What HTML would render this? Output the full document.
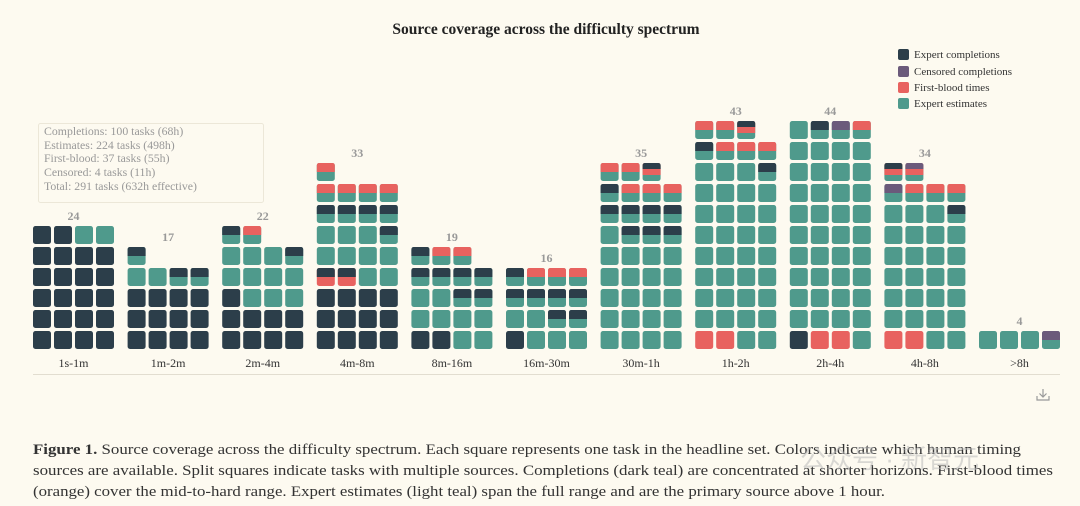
<!DOCTYPE html>
<html><head><meta charset="utf-8"><style>
html,body{margin:0;padding:0;background:#fdfaf0;}
svg{display:block;font-family:"Liberation Serif",serif;}
</style></head><body>
<svg id="s" width="1080" height="506" xmlns="http://www.w3.org/2000/svg">
<rect width="1080" height="506" fill="#fdfaf0"/>
<text x="546" y="34" text-anchor="middle" font-size="15.5" font-weight="bold" fill="#222">Source coverage across the difficulty spectrum</text>
<g font-size="11" fill="#333">
<rect x="898" y="49" width="11" height="11" rx="2" fill="#2c3e4a"/><text x="914" y="58">Expert completions</text>
<rect x="898" y="66" width="11" height="11" rx="2" fill="#6b5a7b"/><text x="914" y="75">Censored completions</text>
<rect x="898" y="82" width="11" height="11" rx="2" fill="#e8625f"/><text x="914" y="91">First-blood times</text>
<rect x="898" y="98" width="11" height="11" rx="2" fill="#4f9a8c"/><text x="914" y="107">Expert estimates</text>
</g>
<rect x="38.5" y="123.5" width="225" height="79" rx="2" fill="#fdfaf0" stroke="#ece7d8"/>
<g font-size="11.8" fill="#999">
<text x="44" y="135">Completions: 100 tasks (68h)</text>
<text x="44" y="149">Estimates: 224 tasks (498h)</text>
<text x="44" y="162">First-blood: 37 tasks (55h)</text>
<text x="44" y="176">Censored: 4 tasks (11h)</text>
<text x="44" y="190">Total: 291 tasks (632h effective)</text>
</g>
<line x1="33" y1="374.5" x2="1060" y2="374.5" stroke="#e2ddd0"/>
<g id="g"></g>
<g stroke="#999" stroke-width="1.2" fill="none"><path d="M1043 389v8M1039.5 393.5l3.5 3.5 3.5-3.5M1037 396v4h12v-4"/></g>
<g font-size="14.5" fill="#333">
<text x="33" y="454" textLength="988" lengthAdjust="spacingAndGlyphs"><tspan font-weight="bold">Figure 1.</tspan> Source coverage across the difficulty spectrum. Each square represents one task in the headline set. Colors indicate which human timing</text>
<text x="33" y="475" textLength="1020" lengthAdjust="spacingAndGlyphs">sources are available. Split squares indicate tasks with multiple sources. Completions (dark teal) are concentrated at shorter horizons. First-blood times</text>
<text x="33" y="496" textLength="852" lengthAdjust="spacingAndGlyphs">(orange) cover the mid-to-hard range. Expert estimates (light teal) span the full range and are the primary source above 1 hour.</text>
</g>
<text x="800" y="468" font-size="26" fill="#bbb" opacity="0.55" font-family="'Liberation Sans','Noto Sans CJK SC',sans-serif">公众号 · 新智元</text>
</svg>
<script>
var C={D:"#2c3e4a",T:"#4f9a8c",O:"#e8625f",P:"#6b5a7b"};
var G=[
["1s-1m",24,[["D","D","D","D"],["D","D","D","D"],["D","D","D","D"],["D","D","D","D"],["D","D","D","D"],["D","D","T","T"]]],
["1m-2m",17,[["D","D","D","D"],["D","D","D","D"],["D","D","D","D"],["T","T","DT","DT"],["DT"]]],
["2m-4m",22,[["D","D","D","D"],["D","D","D","D"],["D","T","T","T"],["T","T","T","T"],["T","T","T","DT"],["DT","OT"]]],
["4m-8m",33,[["D","D","D","D"],["D","D","D","D"],["D","D","D","D"],["DO","DO","T","T"],["T","T","T","T"],["T","T","T","DT"],["DT","DT","DT","DT"],["OT","OT","OT","OT"],["OT"]]],
["8m-16m",19,[["D","D","T","T"],["T","T","T","T"],["T","T","DT","DT"],["DT","DT","DT","DT"],["DT","OT","OT"]]],
["16m-30m",16,[["D","T","T","T"],["T","T","DT","DT"],["DT","DT","DT","DT"],["DT","OT","OT","OT"]]],
["30m-1h",35,[["T","T","T","T"],["T","T","T","T"],["T","T","T","T"],["T","T","T","T"],["T","T","T","T"],["T","DT","DT","DT"],["DT","DT","DT","DT"],["DT","OT","OT","OT"],["OT","OT","DOT"]]],
["1h-2h",43,[["O","O","T","T"]].concat(Array(7).fill(["T","T","T","T"])).concat([["T","T","T","DT"],["DT","OT","OT","OT"],["OT","OT","DOT"]])],
["2h-4h",44,[["D","O","O","T"]].concat(Array(9).fill(["T","T","T","T"])).concat([["T","DT","PT","OT"]])],
["4h-8h",34,[["O","O","T","T"]].concat(Array(5).fill(["T","T","T","T"])).concat([["T","T","T","DT"],["PT","OT","OT","OT"],["DOT","POT"]])],
[">8h",4,[["T","T","T","PT"]]]
];
function topPath(x,y,w,h,r){return "M"+x+","+(y+h)+"V"+(y+r)+"Q"+x+","+y+" "+(x+r)+","+y+"H"+(x+w-r)+"Q"+(x+w)+","+y+" "+(x+w)+","+(y+r)+"V"+(y+h)+"Z";}
var s="",S=18,P=21,R=2.5;
G.forEach(function(g,i){
 var x0=33+i*94.6;
 g[2].forEach(function(row,r){
  var y=331-r*P;
  row.forEach(function(c,k){
   var x=x0+k*P,n=c.length;
   s+='<rect x="'+x+'" y="'+y+'" width="'+S+'" height="'+S+'" rx="'+R+'" fill="'+C[c[n-1]]+'"/>';
   for(var j=n-2;j>=0;j--){var h=S*(j+1)/n;s+='<path d="'+topPath(x,y,S,h,R)+'" fill="'+C[c[j]]+'"/>';}
  });
 });
 var cx=x0+(4*P-3)/2, top=331-(g[2].length-1)*P;
 s+='<text x="'+cx+'" y="'+(top-6)+'" text-anchor="middle" font-size="12" font-weight="bold" fill="#999">'+g[1]+'</text>';
 s+='<text x="'+cx+'" y="367" text-anchor="middle" font-size="12" fill="#333">'+g[0].replace(">","&gt;")+'</text>';
});
document.getElementById("g").innerHTML=s;
</script>
</body></html>
